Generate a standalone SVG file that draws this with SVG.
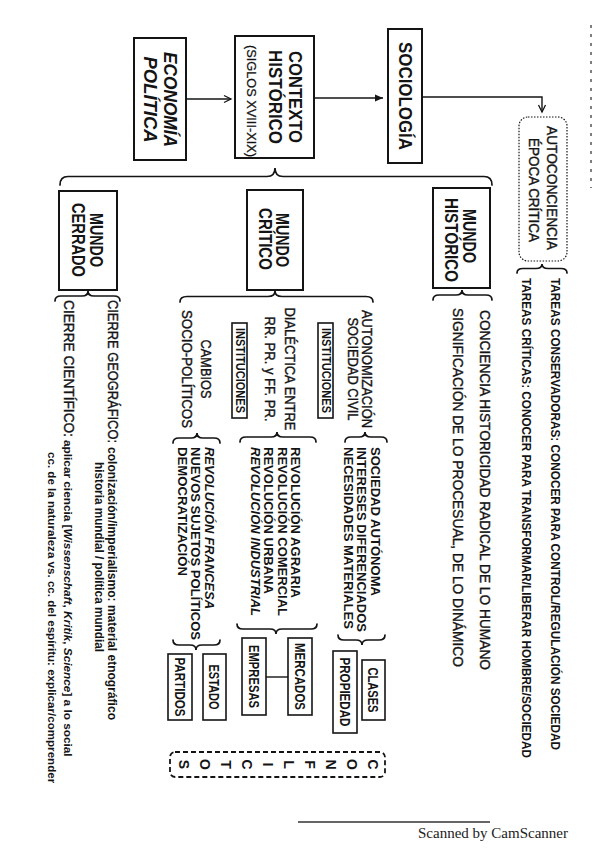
<svg xmlns="http://www.w3.org/2000/svg" width="599" height="848" viewBox="0 0 599 848">
<defs>
<style>
.t{font-family:"Liberation Sans Narrow","Liberation Sans",Arial,sans-serif;fill:#141414}
.r{stroke:#141414;stroke-width:0.4}
.b{font-weight:700}
.i{font-style:italic}
.f18{font-size:18px}
.f16{font-size:15.5px}
.f15{font-size:15px}
.f14{font-size:14px}
.f13{font-size:13px}
.f145{font-size:14.5px}
.f12{font-size:12px}
.m{text-anchor:middle}
.box{fill:#fff;stroke:#141414;stroke-width:2}
.sbox{fill:#fff;stroke:#141414;stroke-width:1.6}
.brace{fill:none;stroke:#141414;stroke-width:1.7;stroke-linecap:round}
.ln{fill:none;stroke:#141414;stroke-width:1.4}
</style>
<marker id="aOpen" markerUnits="userSpaceOnUse" markerWidth="10" markerHeight="10" refX="7" refY="4" orient="auto" overflow="visible"><path d="M0,0.5 L7,4 L0,7.5" fill="none" stroke="#141414" stroke-width="1.3"/></marker>
<marker id="aFill" markerUnits="userSpaceOnUse" markerWidth="10" markerHeight="10" refX="8" refY="3.5" orient="auto" overflow="visible"><path d="M0,0 L8,3.5 L0,7 Z" fill="#141414"/></marker>
</defs>
<rect width="599" height="848" fill="#fff"/>

<g id="connectors">
<path class="ln" d="M187,99 H231" marker-end="url(#aOpen)"/>
<path class="ln" d="M314,98 H383" marker-end="url(#aFill)"/>
<path class="ln" d="M422,97 H542 V112" marker-end="url(#aOpen)"/>
<path class="brace" d="M60,185 Q60,176.5 68,176.5 L267,176.5 Q275,176.5 275,168 Q275,176.5 283,176.5 L484,176.5 Q492,176.5 492,185"/>
<path class="brace" d="M517,273 Q517,268.5 523,268.5 L536,268.5 Q542,268.5 542,264 Q542,268.5 548,268.5 L561,268.5 Q567,268.5 567,273"/>
<path class="brace" d="M433,300 Q433,295 439,295 L456,295 Q462,295 462,290 Q462,295 468,295 L486,295 Q492,295 492,300"/>
<path class="brace" d="M180,302 Q180,296.5 187,296.5 L268,296.5 Q275,296.5 275,291 Q275,296.5 282,296.5 L366,296.5 Q373,296.5 373,302"/>
<path class="brace" d="M55,301 Q55,296 61,296 L82,296 Q88,296 88,291 Q88,296 94,296 L114,296 Q120,296 120,301"/>
<path class="brace" d="M345,442 Q345,437 351,437 L359,437 Q365,437 365,432 Q365,437 371,437 L381,437 Q387,437 387,442"/>
<path class="brace" d="M240,442 Q240,437 246,437 L271,437 Q277,437 277,432 Q277,437 283,437 L310,437 Q316,437 316,442"/>
<path class="brace" d="M173,443 Q173,438 179,438 L191,438 Q197,438 197,433 Q197,438 203,438 L214,438 Q220,438 220,443"/>
<path class="brace" d="M338,635 Q338,640 344,640 L356,640 Q362,640 362,645 Q362,640 368,640 L379,640 Q385,640 385,635"/>
<path class="brace" d="M237,624 Q237,629 243,629 L270,629 Q276,629 276,634 Q276,629 282,629 L311,629 Q317,629 317,624"/>
<path class="brace" d="M173,640 Q173,645 179,645 L190,645 Q196,645 196,650 Q196,645 202,645 L214,645 Q220,645 220,640"/>
<path class="ln" d="M266,677 H288"/>
</g>

<g id="economia">
<rect class="box" x="134" y="38" width="52" height="122"/>
<text class="t b i f18 m" transform="translate(164 99.5) rotate(90)" textLength="95" lengthAdjust="spacingAndGlyphs">ECONOMÍA</text>
<text class="t b i f18 m" transform="translate(143.5 99.5) rotate(90)" textLength="86" lengthAdjust="spacingAndGlyphs">POLÍTICA</text>
</g>

<g id="contexto">
<rect class="box" x="235" y="36" width="79" height="122"/>
<text class="t b f18 m" transform="translate(288.5 97) rotate(90)" textLength="92" lengthAdjust="spacingAndGlyphs">CONTEXTO</text>
<text class="t b f18 m" transform="translate(268.5 97) rotate(90)" textLength="94" lengthAdjust="spacingAndGlyphs">HISTÓRICO</text>
<text class="t r m" style="font-size:12.5px;stroke-width:0.25" transform="translate(246.5 101) rotate(90)" textLength="112" lengthAdjust="spacingAndGlyphs">(SIGLOS XVIII-XIX)</text>
</g>

<g id="sociologia">
<rect class="box" x="388" y="29" width="34" height="134"/>
<text class="t b f18 m" transform="translate(398.5 96) rotate(90)" textLength="108" lengthAdjust="spacingAndGlyphs">SOCIOLOGÍA</text>
</g>

<g id="autoconciencia">
<rect x="519" y="117" width="48" height="144" rx="9" fill="#fff" stroke="#141414" stroke-width="1.2" stroke-dasharray="1.5 1.5"/>
<text class="t r f15 m" transform="translate(546.5 188) rotate(90)" textLength="124" lengthAdjust="spacingAndGlyphs">AUTOCONCIENCIA</text>
<text class="t r f15 m" transform="translate(529 190) rotate(90)" textLength="104" lengthAdjust="spacingAndGlyphs">ÉPOCA CRÍTICA</text>
</g>

<g id="tareas">
<text class="t b f13" transform="translate(551 278) rotate(90)" textLength="472" lengthAdjust="spacingAndGlyphs">TAREAS CONSERVADORAS: CONOCER PARA CONTROL/REGULACIÓN SOCIEDAD</text>
<text class="t b f13" transform="translate(521.5 278) rotate(90)" textLength="480" lengthAdjust="spacingAndGlyphs">TAREAS CRÍTICAS: CONOCER PARA TRANSFORMAR/LIBERAR HOMBRE/SOCIEDAD</text>
</g>

<g id="mundo-historico">
<rect class="box" x="433" y="188" width="57" height="100"/>
<text class="t b f18 m" transform="translate(463 236) rotate(90)" textLength="54" lengthAdjust="spacingAndGlyphs">MUNDO</text>
<text class="t b f18 m" transform="translate(445 240) rotate(90)" textLength="84" lengthAdjust="spacingAndGlyphs">HISTÓRICO</text>
</g>

<g id="historico-items">
<text class="t r f16" transform="translate(479.5 310) rotate(90)" textLength="360" lengthAdjust="spacingAndGlyphs">CONCIENCIA HISTORICIDAD RADICAL DE LO HUMANO</text>
<text class="t r f16" transform="translate(452.5 308) rotate(90)" textLength="359" lengthAdjust="spacingAndGlyphs">SIGNIFICACIÓN DE LO PROCESUAL, DE LO DINÁMICO</text>
</g>

<g id="mundo-critico">
<rect class="box" x="247" y="190" width="56" height="100"/>
<text class="t b f18 m" transform="translate(276 240) rotate(90)" textLength="54" lengthAdjust="spacingAndGlyphs">MUNDO</text>
<text class="t b f18 m" transform="translate(258.5 239) rotate(90)" textLength="62" lengthAdjust="spacingAndGlyphs">CRÍTICO</text>
</g>

<g id="autonomizacion">
<text class="t r f16 m" transform="translate(362 369) rotate(90)" textLength="118" lengthAdjust="spacingAndGlyphs">AUTONOMIZACIÓN</text>
<text class="t r f16 m" transform="translate(347.5 369) rotate(90)" textLength="103" lengthAdjust="spacingAndGlyphs">SOCIEDAD CIVIL</text>
<rect class="sbox" x="318" y="323" width="15" height="95"/>
<text class="t b f12 m" transform="translate(321.7 370.5) rotate(90)" textLength="85" lengthAdjust="spacingAndGlyphs">INSTITUCIONES</text>
</g>

<g id="sociedad-list">
<text class="t b f13" transform="translate(370.5 447) rotate(90)" textLength="149" lengthAdjust="spacingAndGlyphs">SOCIEDAD AUTÓNOMA</text>
<text class="t b f13" transform="translate(357 447) rotate(90)" textLength="185" lengthAdjust="spacingAndGlyphs">INTERESES DIFERENCIADOS</text>
<text class="t b f13" transform="translate(343.5 447) rotate(90)" textLength="182" lengthAdjust="spacingAndGlyphs">NECESIDADES MATERIALES</text>
</g>

<g id="clases">
<rect class="sbox" x="362" y="660" width="23" height="60"/>
<text class="t b f145 m" transform="translate(368.3 690) rotate(90)" textLength="45" lengthAdjust="spacingAndGlyphs">CLASES</text>
</g>
<g id="propiedad">
<rect class="sbox" x="333" y="651" width="24" height="82"/>
<text class="t b f145 m" transform="translate(339.8 692) rotate(90)" textLength="69" lengthAdjust="spacingAndGlyphs">PROPIEDAD</text>
</g>

<g id="dialectica">
<text class="t r f16 m" transform="translate(284.5 369) rotate(90)" textLength="123" lengthAdjust="spacingAndGlyphs">DIALÉCTICA ENTRE</text>
<text class="t r f16 m" transform="translate(264.5 369) rotate(90)" textLength="105" lengthAdjust="spacingAndGlyphs">RR. PR. y FF. PR.</text>
<rect class="sbox" x="232" y="323" width="15" height="95"/>
<text class="t b f12 m" transform="translate(235.7 370.5) rotate(90)" textLength="85" lengthAdjust="spacingAndGlyphs">INSTITUCIONES</text>
</g>

<g id="revolucion-list">
<text class="t b f13" transform="translate(291 447) rotate(90)" textLength="151" lengthAdjust="spacingAndGlyphs">REVOLUCIÓN AGRARIA</text>
<text class="t b f13" transform="translate(278 447) rotate(90)" textLength="169" lengthAdjust="spacingAndGlyphs">REVOLUCIÓN COMERCIAL</text>
<text class="t b f13" transform="translate(264 447) rotate(90)" textLength="147" lengthAdjust="spacingAndGlyphs">REVOLUCIÓN URBANA</text>
<text class="t b i f13" transform="translate(251 447) rotate(90)" textLength="169" lengthAdjust="spacingAndGlyphs">REVOLUCIÓN INDUSTRIAL</text>
</g>

<g id="mercados">
<rect class="sbox" x="288" y="638" width="24" height="77"/>
<text class="t b f145 m" transform="translate(294.8 676.5) rotate(90)" textLength="67" lengthAdjust="spacingAndGlyphs">MERCADOS</text>
</g>
<g id="empresas">
<rect class="sbox" x="242" y="638" width="24" height="77"/>
<text class="t b f145 m" transform="translate(248.8 676.5) rotate(90)" textLength="63" lengthAdjust="spacingAndGlyphs">EMPRESAS</text>
</g>

<g id="cambios">
<text class="t r f16 m" transform="translate(200.5 369) rotate(90)" textLength="59" lengthAdjust="spacingAndGlyphs">CAMBIOS</text>
<text class="t r f16 m" transform="translate(181.5 369) rotate(90)" textLength="118" lengthAdjust="spacingAndGlyphs">SOCIO-POLÍTICOS</text>
</g>

<g id="francesa-list">
<text class="t b i f13" transform="translate(204.5 447) rotate(90)" textLength="162" lengthAdjust="spacingAndGlyphs">REVOLUCIÓN FRANCESA</text>
<text class="t b f13" transform="translate(191 447) rotate(90)" textLength="193" lengthAdjust="spacingAndGlyphs">NUEVOS SUJETOS POLÍTICOS</text>
<text class="t b f13" transform="translate(177.5 447) rotate(90)" textLength="129" lengthAdjust="spacingAndGlyphs">DEMOCRATIZACIÓN</text>
</g>

<g id="estado">
<rect class="sbox" x="203" y="654" width="23" height="66"/>
<text class="t b f145 m" transform="translate(209.3 687) rotate(90)" textLength="45" lengthAdjust="spacingAndGlyphs">ESTADO</text>
</g>
<g id="partidos">
<rect class="sbox" x="168" y="654" width="24" height="66"/>
<text class="t b f145 m" transform="translate(174.8 687) rotate(90)" textLength="59" lengthAdjust="spacingAndGlyphs">PARTIDOS</text>
</g>

<g id="conflictos">
<rect x="170" y="752" width="215" height="25" rx="5" fill="#fff" stroke="#141414" stroke-width="1.8" stroke-dasharray="5 3"/>
<text class="t b f14 m" transform="translate(368 764.5) rotate(90)">C</text>
<text class="t b f14 m" transform="translate(347 764.5) rotate(90)">O</text>
<text class="t b f14 m" transform="translate(326 764.5) rotate(90)">N</text>
<text class="t b f14 m" transform="translate(305 764.5) rotate(90)">F</text>
<text class="t b f14 m" transform="translate(284 764.5) rotate(90)">L</text>
<text class="t b f14 m" transform="translate(263 764.5) rotate(90)">I</text>
<text class="t b f14 m" transform="translate(242 764.5) rotate(90)">C</text>
<text class="t b f14 m" transform="translate(221 764.5) rotate(90)">T</text>
<text class="t b f14 m" transform="translate(200 764.5) rotate(90)">O</text>
<text class="t b f14 m" transform="translate(179 764.5) rotate(90)">S</text>
</g>

<g id="mundo-cerrado">
<rect class="box" x="59" y="191" width="58" height="99"/>
<text class="t b f18 m" transform="translate(89.5 240) rotate(90)" textLength="54" lengthAdjust="spacingAndGlyphs">MUNDO</text>
<text class="t b f18 m" transform="translate(72 240) rotate(90)" textLength="74" lengthAdjust="spacingAndGlyphs">CERRADO</text>
</g>

<g id="cierres">
<text class="t r f16" transform="translate(107.5 300) rotate(90)" textLength="143" lengthAdjust="spacingAndGlyphs">CIERRE GEOGRÁFICO:</text>
<text class="t b f12" transform="translate(107.5 447) rotate(90)" textLength="273" lengthAdjust="spacingAndGlyphs">colonización/imperialismo: material etnográfico</text>
<text class="t b f12" transform="translate(95 462) rotate(90)" textLength="190" lengthAdjust="spacingAndGlyphs">historia mundial / política mundial</text>
<text class="t r f16" transform="translate(63.5 300) rotate(90)" textLength="137" lengthAdjust="spacingAndGlyphs">CIERRE CIENTÍFICO:</text>
<text class="t b" style="font-size:11.8px" transform="translate(63.5 440) rotate(90)">aplicar ciencia [<tspan class="i">Wissenschaft</tspan>, <tspan class="i">Kritik</tspan>, <tspan class="i">Science</tspan>] a lo social</text>
<text class="t b" style="font-size:11.6px" transform="translate(48 452) rotate(90)">cc. de la naturaleza vs. cc. del espíritu: explicar/comprender</text>
</g>

<g id="scan">
<path d="M591,25 V188" fill="none" stroke="#555" stroke-width="1.5" stroke-dasharray="3 6"/>
<path d="M298,822 H490" fill="none" stroke="#333" stroke-width="1.5"/>
<text x="418" y="838" style="font-family:'Liberation Serif','Times New Roman',serif;font-size:15px;fill:#222">Scanned by CamScanner</text>
</g>
</svg>
